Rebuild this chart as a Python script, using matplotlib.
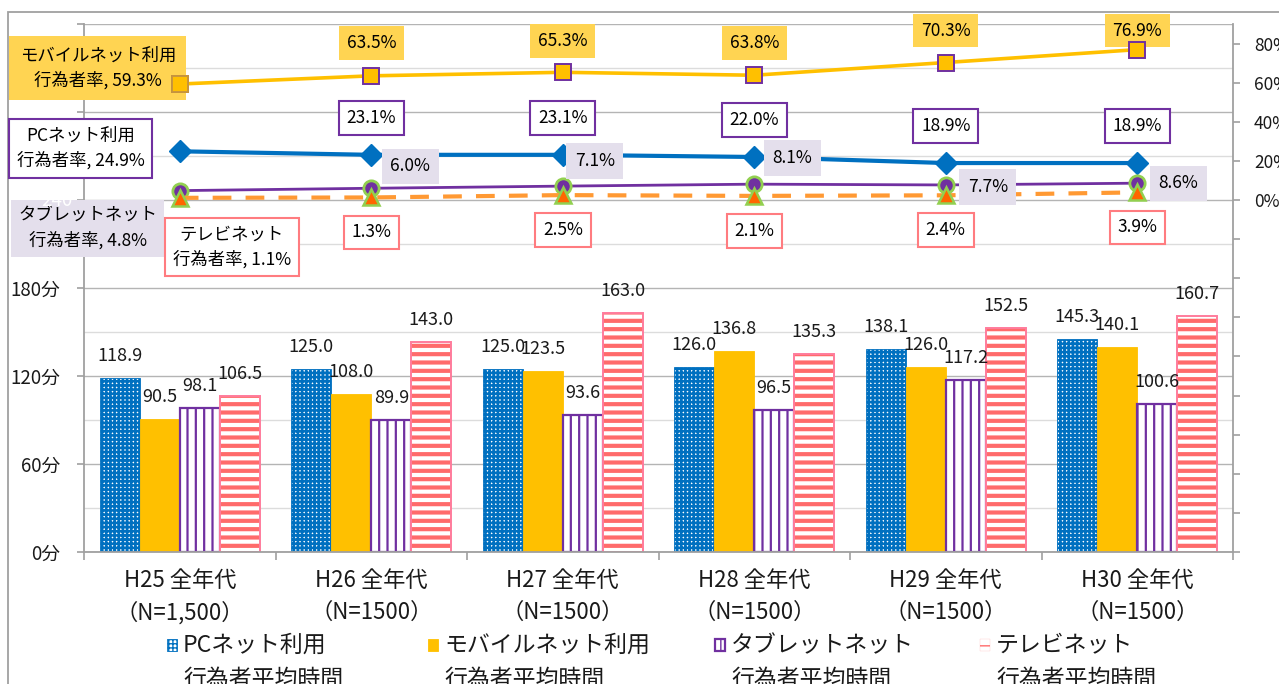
import matplotlib
matplotlib.use('Agg')
import matplotlib.pyplot as plt
import matplotlib.transforms as mtransforms
import numpy as np
from matplotlib.patches import Rectangle
from matplotlib.legend_handler import HandlerPatch

plt.rcParams['font.family'] = ['Noto Sans CJK JP', 'DejaVu Sans']

# ---------------- data ----------------
categories = ['H25 全年代\n（N=1,500）', 'H26 全年代\n（N=1500）', 'H27 全年代\n（N=1500）',
              'H28 全年代\n（N=1500）', 'H29 全年代\n（N=1500）', 'H30 全年代\n（N=1500）']
pc_time = [118.9, 125.0, 125.0, 126.0, 138.1, 145.3]
mobile_time = [90.5, 108.0, 123.5, 136.8, 126.0, 140.1]
tablet_time = [98.1, 89.9, 93.6, 96.5, 117.2, 100.6]
tv_time = [106.5, 143.0, 163.0, 135.3, 152.5, 160.7]

mobile_rate = [59.3, 63.5, 65.3, 63.8, 70.3, 76.9]
pc_rate = [24.9, 23.1, 23.1, 22.0, 18.9, 18.9]
tablet_rate = [4.8, 6.0, 7.1, 8.1, 7.7, 8.6]
tv_rate = [1.1, 1.3, 2.5, 2.1, 2.4, 3.9]

time_ticks = [0, 60, 120, 180, 240, 300, 360]
time_tick_labels = ['0分', '60分', '120分', '180分', '', '', '']
hidden_tick_value = 240
rate_ticks = list(range(-180, 81, 20))
rate_tick_labels = [f'{v}%' if v >= 0 else '' for v in rate_ticks]

legend_labels = ['PCネット利用\n行為者平均時間', 'モバイルネット利用\n行為者平均時間',
                 'タブレットネット\n行為者平均時間', 'テレビネット\n行為者平均時間']
rate_names = ['モバイルネット利用', 'PCネット利用', 'タブレットネット', 'テレビネット']

# ---------------- styles ----------------
BLUE = '#0070C0'
GOLD = '#FFC000'
PURPLE = '#7030A0'
SALMON = '#FF6B6B'
PINK_EDGE = '#FF7C9C'
GREEN = '#92D050'
ORANGE = '#FF9933'
GRID_MAJ = '#B4B4B4'
GRID_MIN = '#DCDCDC'
AXC = '#A0A0A0'
TXT = '#1A1A1A'

W, H = 1279, 684
fig = plt.figure(figsize=(W / 100, H / 100), dpi=100)
ax = fig.add_axes([84 / W, (H - 552) / H, (1233 - 84) / W, 528 / H])
ax2 = ax.twinx()

x = np.arange(len(categories))
w = 0.209


def bars(vals, off, hlw, **kw):
    with plt.rc_context({'hatch.linewidth': hlw}):
        bc = ax.bar(x + off * w, vals, w, zorder=1, **kw)
    for p in bc:
        if hasattr(p, 'set_hatch_linewidth'):
            p.set_hatch_linewidth(hlw)
    return bc


b_pc = bars(pc_time, -1.5, 1.9, facecolor='white', edgecolor=BLUE, hatch='++++', linewidth=0.6)
b_mo = bars(mobile_time, -0.5, 1.0, facecolor=GOLD, edgecolor=GOLD, linewidth=0.6)
b_ta = bars(tablet_time, 0.5, 1.6, facecolor='white', edgecolor=PURPLE, hatch='||', linewidth=1.6)
b_tv = bars(tv_time, 1.5, 3.0, facecolor='white', edgecolor=SALMON, hatch='--', linewidth=0.1)
for p in b_tv:
    ax.add_patch(Rectangle(p.get_xy(), p.get_width(), p.get_height(), fill=False,
                           edgecolor=PINK_EDGE, linewidth=1.4, zorder=1.1))

for bc, vals in [(b_pc, pc_time), (b_mo, mobile_time), (b_ta, tablet_time), (b_tv, tv_time)]:
    for p, v in zip(bc, vals):
        ax.annotate(f'{v:.1f}', (p.get_x() + p.get_width() / 2, v), xytext=(0, 22),
                    textcoords='offset pixels', ha='center', va='center', fontsize=13,
                    color=TXT, zorder=3)

# left axis
ax.set_xlim(-0.5, len(categories) - 0.5)
ax.set_ylim(0, 360)
ax.set_yticks(time_ticks)
ax.set_yticklabels(time_tick_labels)
ax.set_yticks(np.arange(30, 360, 60), minor=True)
ax.set_axisbelow(True)
ax.grid(axis='y', which='major', color=GRID_MAJ, linewidth=1.0)
ax.grid(axis='y', which='minor', color=GRID_MIN, linewidth=1.0)
ax.tick_params(axis='y', which='major', direction='out', length=5, color=AXC, width=1.2,
               labelsize=13.5, pad=12, labelcolor=TXT)
ax.tick_params(axis='y', which='minor', length=0)
ax.set_xticks(x)
ax.set_xticklabels(categories, linespacing=1.5)
ax.set_xticks(np.arange(-0.5, len(categories), 1.0), minor=True)
ax.tick_params(axis='x', which='major', length=0, pad=12, labelsize=16, labelcolor=TXT)
ax.tick_params(axis='x', which='minor', direction='out', length=6, color=AXC, width=1.2)
for s in ['top', 'right']:
    ax.spines[s].set_visible(False)
for s in ['left', 'bottom']:
    ax.spines[s].set_color(AXC)
    ax.spines[s].set_linewidth(1.3)

# right axis
ax2.set_ylim(-180, 90)
ax2.set_yticks(rate_ticks)
ax2.set_yticklabels(rate_tick_labels)
ax2.tick_params(axis='y', direction='out', length=5, color=AXC, width=1.2, labelsize=12.5,
                pad=10, labelcolor=TXT)
for s in ['top', 'left', 'bottom']:
    ax2.spines[s].set_visible(False)
ax2.spines['right'].set_color(AXC)
ax2.spines['right'].set_linewidth(1.3)

# lines
ax2.plot(x, mobile_rate, color=GOLD, lw=2.6, marker='s', ms=11, mfc=GOLD, mec=PURPLE, mew=1.4, zorder=4)
ax2.plot(x[:1], mobile_rate[:1], ls='none', marker='s', ms=11, mfc=GOLD, mec='#C8963C', mew=1.4, zorder=4.1)
ax2.plot(x, pc_rate, color=BLUE, lw=3.0, marker='D', ms=11, mfc=BLUE, mec=BLUE, zorder=4)
ax2.plot(x, tablet_rate, color=PURPLE, lw=2.0, marker='o', ms=11, mfc=PURPLE, mec=GREEN, mew=2, zorder=4.2)
ax2.plot(x, tv_rate, color=ORANGE, lw=3.0, dashes=(4.5, 3.4), marker='^', ms=11, mfc='#FF6600',
         mec=GREEN, mew=1.8, zorder=4.3)

# point labels
lab_fs = 12.5
mob_box = dict(boxstyle='square,pad=0.45', fc='#FFD452', ec='none')
pc_box = dict(boxstyle='square,pad=0.45', fc='white', ec=PURPLE, lw=1.5)
tab_box = dict(boxstyle='square,pad=0.5', fc='#E4DFEC', ec='none')
tv_box = dict(boxstyle='square,pad=0.45', fc='white', ec='#FF7C80', lw=1.5)
mobile_offsets = [0, 33, 31, 32, 32, 19]
tablet_offsets = [(0, 0), (39, 22), (32, 25), (38, 26), (42, -2), (41, 0)]

for i in range(1, len(x)):
    ax2.annotate(f'{mobile_rate[i]:.1f}%', (x[i], mobile_rate[i]), xytext=(0, mobile_offsets[i]),
                 textcoords='offset pixels', ha='center', va='center', fontsize=lab_fs, bbox=mob_box, zorder=3)
    ax2.annotate(f'{pc_rate[i]:.1f}%', (x[i], pc_rate[i]), xytext=(0, 37), textcoords='offset pixels',
                 ha='center', va='center', fontsize=lab_fs, bbox=pc_box, zorder=5)
    ax2.annotate(f'{tablet_rate[i]:.1f}%', (x[i], tablet_rate[i]), xytext=tablet_offsets[i],
                 textcoords='offset pixels', ha='center', va='center', fontsize=lab_fs, bbox=tab_box, zorder=5)
    ax2.annotate(f'{tv_rate[i]:.1f}%', (x[i], tv_rate[i]), xytext=(0, -35), textcoords='offset pixels',
                 ha='center', va='center', fontsize=lab_fs, bbox=tv_box, zorder=5)

first_specs = [(mobile_rate, (-82, 16), dict(boxstyle='square,pad=0.6', fc='#FFD452', ec='none')),
               (pc_rate, (-99, 3), pc_box),
               (tablet_rate, (-92, -38), dict(boxstyle='square,pad=0.4', fc='#E4DFEC', ec='none')),
               (tv_rate, (52, -49), tv_box)]
for name, (vals, off, box) in zip(rate_names, first_specs):
    ax2.annotate(f'{name}\n行為者率, {vals[0]:.1f}%', (x[0], vals[0]), xytext=off,
                 textcoords='offset pixels', ha='center', va='center', fontsize=12.5,
                 multialignment='center', linespacing=1.45, bbox=box, zorder=3, annotation_clip=False)

# hidden "240" label of the left axis (white, shows over the tablet label box)
ax2.text(-12 / 1149, hidden_tick_value, str(hidden_tick_value),
         transform=mtransforms.blended_transform_factory(ax.transAxes, ax.transData),
         ha='right', va='center', fontsize=13.5, color='white', zorder=10, clip_on=False)

# legend (one per entry, positioned like the original)
leg_fs = 16.5


def top_patch(legend, orig_handle, xdescent, ydescent, width, height, fontsize):
    sz = width
    return Rectangle((-xdescent, -ydescent + 14.5), sz, sz * 1.2)


hmap = {Rectangle: HandlerPatch(patch_func=top_patch)}
leg_x = [167, 428, 715, 980]
for bc, lab, lx in zip([b_pc, b_mo, b_ta, b_tv], legend_labels, leg_x):
    lg = fig.legend([bc.patches[0]], [lab], loc='upper left',
                    bbox_to_anchor=(lx / W, 50 / H), frameon=False, fontsize=leg_fs,
                    handlelength=0.45, handleheight=0.7, handletextpad=0.25, borderpad=0,
                    borderaxespad=0, handler_map=hmap)
    for t in lg.get_texts():
        t.set_linespacing(1.6)
        t.set_color(TXT)

# outer chart frame
fig.add_artist(Rectangle((8 / W, -0.1), 1.2, (H - 12) / H + 0.1, transform=fig.transFigure,
                         fill=False, edgecolor=AXC, linewidth=1.3, zorder=0))

fig.savefig('out.png', dpi=100)
